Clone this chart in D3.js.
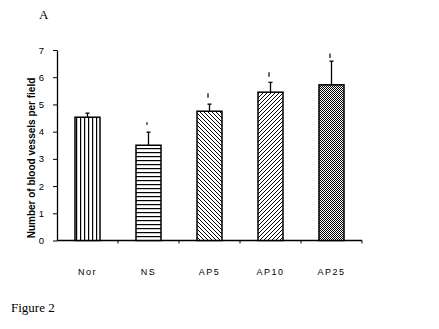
<!DOCTYPE html>
<html>
<head>
<meta charset="utf-8">
<script src="https://cdn.jsdelivr.net/npm/d3@7"></script>
<style>
  body { margin: 0; background: #fff; }
  svg { display: block; }
  text { font-family: Arial, "Liberation Sans", sans-serif; }
</style>
</head>
<body>
<svg id="bar"></svg>
<script>
// data
var groups = ["Nor", "NS", "AP5", "AP10", "AP25"];
var means = [4.53, 3.5, 4.75, 5.45, 5.72];
var errs = [0.15, 0.48, 0.26, 0.36, 0.87];
var marks = [null, 4.3, 5.33, 6.1, 6.79]; // small significance ticks
var yTicks = [0, 1, 2, 3, 4, 5, 6, 7];
var fills = ["vert", "horiz", "diagDown", "diagUp", "checker"];

var width = 439, height = 329;
var svg = d3.select("#bar").attr("width", width).attr("height", height);

var defs = svg.append("defs");
function pat(id, w, h, draw) {
  var p = defs.append("pattern").attr("id", id)
    .attr("patternUnits", "userSpaceOnUse")
    .attr("width", w).attr("height", h);
  p.append("rect").attr("width", w).attr("height", h).attr("fill", "#fff");
  draw(p);
}
pat("vert", 4, 4, p => p.append("rect").attr("x", 0).attr("width", 1.2).attr("height", 4).attr("fill", "#000"));
pat("horiz", 4, 4, p => p.append("rect").attr("y", 0).attr("height", 1.2).attr("width", 4).attr("fill", "#000"));
pat("diagDown", 4, 4, p => p.append("path").attr("d", "M-1,-1L5,5M-1,3L1,5M3,-1L5,1").attr("stroke", "#000").attr("stroke-width", 1));
pat("diagUp", 4, 4, p => p.append("path").attr("d", "M-1,5L5,-1M-1,1L1,-1M3,5L5,3").attr("stroke", "#000").attr("stroke-width", 1));
pat("checker", 2, 2, p => {
  p.append("rect").attr("width", 1).attr("height", 1).attr("fill", "#000");
  p.append("rect").attr("x", 1).attr("y", 1).attr("width", 1).attr("height", 1).attr("fill", "#000");
});

var padding = { left: 57, right: 362, top: 50, bottom: 240.5 };

var xScale = d3.scaleBand()
  .domain(groups)
  .range([padding.left, padding.right])
  .paddingInner(0.59)
  .paddingOuter(0.295);

var yScale = d3.scaleLinear()
  .domain([0, 7])
  .range([padding.bottom, padding.top]);

var data = groups.map((g, i) => ({ g: g, m: means[i], e: errs[i], s: marks[i], f: fills[i] }));

// y axis
var yAxis = d3.axisLeft(yScale).tickValues(yTicks).tickFormat(d3.format("d"))
  .tickSize(4).tickSizeOuter(0).tickPadding(9);
var ya = svg.append("g")
  .attr("transform", "translate(" + padding.left + ",0)")
  .call(yAxis);
ya.selectAll("text").style("font-size", "9.5px").attr("fill", "#000");
ya.select(".domain").attr("stroke-width", 1.3);

// x axis line + ticks between groups
var step = xScale.step();
var xTickPos = d3.range(1, groups.length + 1).map(i => padding.left + i * step);
svg.append("line")
  .attr("x1", padding.left).attr("x2", padding.right)
  .attr("y1", padding.bottom).attr("y2", padding.bottom)
  .attr("stroke", "#000").attr("stroke-width", 1.3);
svg.selectAll(".xtick").data(xTickPos).enter().append("line")
  .attr("x1", d => d).attr("x2", d => d)
  .attr("y1", padding.bottom).attr("y2", padding.bottom + 3)
  .attr("stroke", "#000");

// bars
svg.selectAll(".bar").data(data).enter().append("rect")
  .classed("bar", true)
  .attr("x", d => xScale(d.g))
  .attr("y", d => yScale(d.m))
  .attr("width", xScale.bandwidth())
  .attr("height", d => padding.bottom - yScale(d.m))
  .attr("fill", d => "url(#" + d.f + ")")
  .attr("stroke", "#000").attr("stroke-width", 1.5);

// error bars
var cx = d => xScale(d.g) + xScale.bandwidth() / 2;
svg.selectAll(".err").data(data).enter().append("line")
  .attr("x1", cx).attr("x2", cx)
  .attr("y1", d => yScale(d.m)).attr("y2", d => yScale(d.m + d.e))
  .attr("stroke", "#000").attr("stroke-width", 1.3);
svg.selectAll(".cap").data(data).enter().append("line")
  .attr("x1", d => cx(d) - 2).attr("x2", d => cx(d) + 2)
  .attr("y1", d => yScale(d.m + d.e)).attr("y2", d => yScale(d.m + d.e))
  .attr("stroke", "#000").attr("stroke-width", 1.3);

// significance ticks
svg.selectAll(".sig").data(data.filter(d => d.s != null)).enter().append("line")
  .attr("x1", d => cx(d) - 1.5).attr("x2", d => cx(d) - 1.5)
  .attr("y1", d => yScale(d.s) - (d.g === "NS" ? 1.2 : 2.2))
  .attr("y2", d => yScale(d.s) + (d.g === "NS" ? 1.2 : 2.2))
  .attr("stroke", "#000").attr("stroke-width", 1.2);

// category labels
svg.selectAll(".xlab").data(data).enter().append("text")
  .attr("x", d => cx(d))
  .attr("y", 275)
  .attr("text-anchor", "middle")
  .style("font-size", "9px")
  .style("letter-spacing", "1.5px")
  .text(d => d.g);

// y-axis title
svg.append("text")
  .attr("transform", "translate(35,158) rotate(-90)")
  .attr("text-anchor", "middle")
  .style("font-size", "10px")
  .style("font-weight", "bold")
  .text("Number of blood vessels per field");

// panel letter and figure caption
svg.append("text")
  .attr("x", 39).attr("y", 19)
  .style("font-family", "'Liberation Serif', 'Times New Roman', serif")
  .style("font-size", "13px")
  .text("A");
svg.append("text")
  .attr("x", 11).attr("y", 312)
  .style("font-family", "'Liberation Serif', 'Times New Roman', serif")
  .style("font-size", "13px")
  .text("Figure 2");
</script>
</body>
</html>
